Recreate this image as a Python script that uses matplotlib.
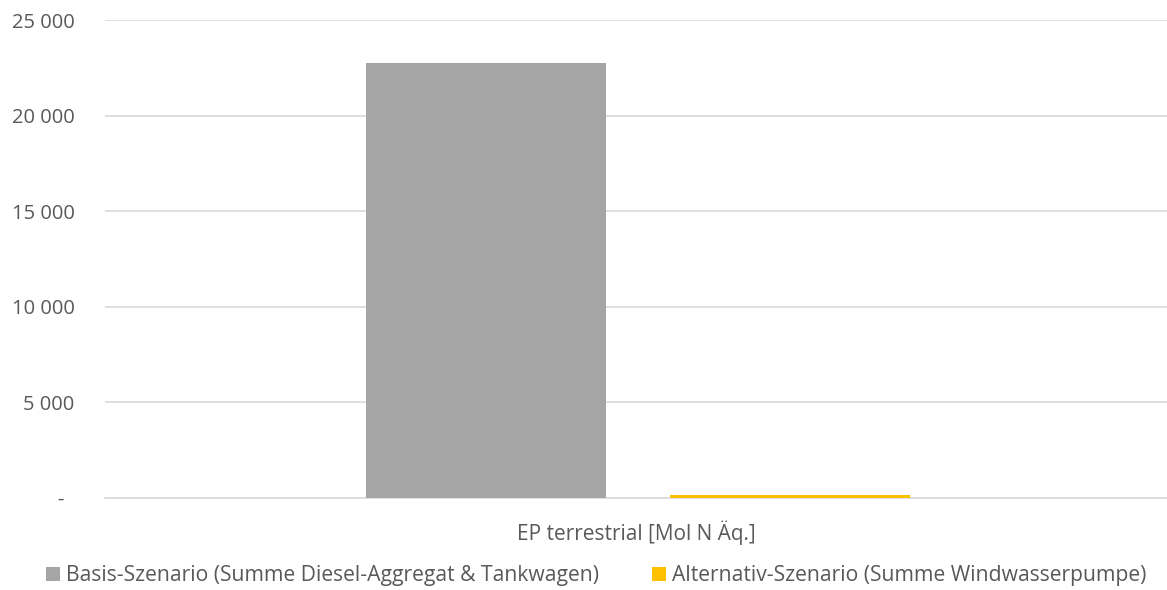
import matplotlib
matplotlib.use("Agg")
import matplotlib.pyplot as plt
from matplotlib.ticker import FuncFormatter

categories = ["EP terrestrial [Mol N Äq.]"]
series_names = ["Basis-Szenario (Summe Diesel-Aggregat & Tankwagen)",
                "Alternativ-Szenario (Summe Windwasserpumpe)"]
series_values = [[22750], [130]]
colors = ["#A5A5A5", "#FFC000"]
yticks = [0, 5000, 10000, 15000, 20000, 25000]

plt.rcParams['font.family'] = ['Open Sans', 'DejaVu Sans']
txt = "#595959"

fig = plt.figure(figsize=(11.67, 5.90), dpi=100)
ax = fig.add_axes([0.09, 0.156, 0.91, 0.81])

width = 0.226
offsets = [-0.141, 0.145]
for vals, off, c, name in zip(series_values, offsets, colors, series_names):
    ax.bar([i + off for i in range(len(categories))], vals, width=width,
           color=c, label=name, zorder=3)

ax.set_xlim(-0.5, 0.5)
ax.set_ylim(0, 25000)
ax.set_yticks(yticks)
ax.yaxis.set_major_formatter(FuncFormatter(
    lambda v, p: "-  " if v == 0 else f"{int(v):,}".replace(",", " ")))
ax.set_xticks(range(len(categories)))
ax.set_xticklabels(categories, fontsize=15)
ax.grid(axis='y', color="#D9D9D9", linewidth=1.2, zorder=0)
for s in ["top", "right", "left"]:
    ax.spines[s].set_visible(False)
ax.spines["bottom"].set_color("#D9D9D9")
ax.spines["bottom"].set_linewidth(1.2)
ax.tick_params(axis='both', length=0, colors=txt)
ax.tick_params(axis='y', labelsize=14.5, pad=22)
ax.tick_params(axis='x', pad=16)

leg = fig.legend(loc='center', bbox_to_anchor=(0.511, 0.024), ncol=2,
                 frameon=False, fontsize=15.2, handlelength=0.66, handleheight=0.66,
                 handletextpad=0.28, columnspacing=2.5, labelcolor=txt)

fig.savefig("out.png", dpi=100)
